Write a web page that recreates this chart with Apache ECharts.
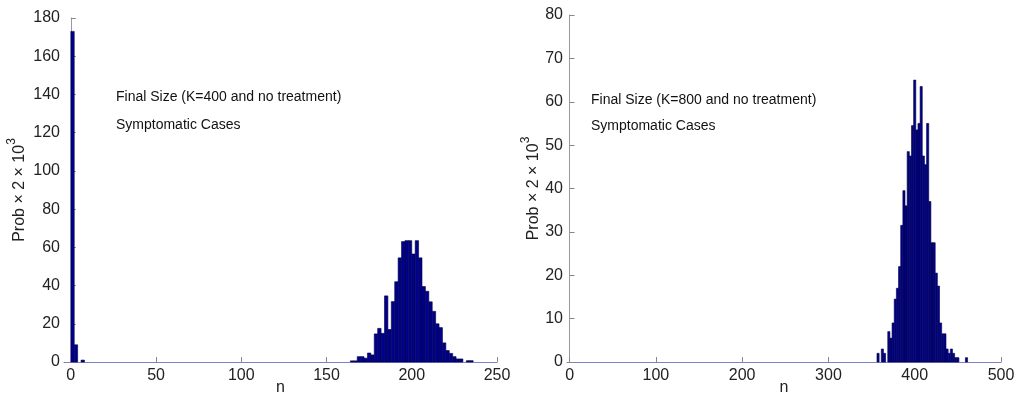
<!DOCTYPE html>
<html><head><meta charset="utf-8">
<script src="https://cdn.jsdelivr.net/npm/echarts@6/dist/echarts.min.js"></script>
<style>html,body{margin:0;padding:0;background:#fff}#c{width:1027px;height:403px}</style>
</head><body><div id="c"></div>
<script>
// Left panel: K=400 (bin centres n, bin width 2)
const leftN = [1, 3, 7,
  165, 167, 169, 171, 173, 175, 177, 179, 181, 183, 185, 187, 189, 191, 193, 195, 197, 199,
  201, 203, 205, 207, 209, 211, 213, 215, 217, 219, 221, 223, 225, 227, 229, 233, 235];
const leftProb = [173, 9, 1,
  0.6, 0.6, 2.8, 2.8, 2, 4.7, 3.7, 14.7, 17.6, 15, 34.6, 17, 31.6, 42, 54.5, 63, 63.5, 63.5,
  56.5, 63.5, 54.5, 39.5, 37, 31.5, 26.5, 20, 18, 10, 6, 4.5, 2.8, 1.6, 1.6, 0.7, 0.7];
// Right panel: K=800 (bin centres n, bin width 2.5)
const rightN = [357.5, 362.5, 365, 370, 372.5, 375, 377.5, 380, 382.5, 385, 387.5, 390, 392.5, 395, 397.5,
  400, 402.5, 405, 407.5, 410, 412.5, 415, 417.5, 420, 422.5, 425, 427.5, 430, 432.5, 435,
  437.5, 440, 442.5, 445, 447.5, 450, 460];
const rightProb = [2, 3, 2, 7, 5.5, 9, 14.5, 17, 22, 31.5, 39.5, 36, 48.5, 47.5, 54.5,
  65, 53.5, 55, 63.5, 47.5, 45.5, 55, 37, 27.5, 27.5, 20.5, 17.5, 9, 6.5, 6.5,
  3, 2, 3, 2, 1, 1, 1];
const leftBin = 2, rightBin = 2.5;
const leftTitle = ['Final Size (K=400 and no treatment)', 'Symptomatic Cases'];
const rightTitle = ['Final Size (K=800 and no treatment)', 'Symptomatic Cases'];
const yName = '{b|Prob \u00d7 2 \u00d7 10}{s|3}';
const xName = 'n';

const FONT = '"Liberation Sans", Arial, Helvetica, sans-serif';
const chart = echarts.init(document.getElementById('c'), null, {renderer: 'canvas'});

function hist(idx, ns, ps, bin) {
  return {
    type: 'custom', xAxisIndex: idx, yAxisIndex: idx,
    data: ns.map((n, i) => [n, ps[i]]),
    encode: {x: 0, y: 1},
    renderItem(params, api) {
      const n = api.value(0), p = api.value(1);
      const a = api.coord([n - bin / 2, p]);
      const b = api.coord([n + bin / 2, 0]);
      return {type: 'rect', shape: {x: a[0], y: a[1], width: b[0] - a[0], height: b[1] - a[1]},
        style: {fill: '#00008c', stroke: '#000040', lineWidth: 0.6}};
    }
  };
}
function xAx(idx, min, max) {
  return {
    gridIndex: idx, type: 'value', min: min, max: max,
    splitLine: {show: false},
    axisLine: {onZero: false, lineStyle: {color: '#7b82c8', width: 1}},
    axisTick: {inside: true, length: 5, lineStyle: {color: '#888'}},
    axisLabel: {showMinLabel: false, margin: 6, fontSize: 16, color: '#222', fontFamily: FONT},
    name: xName, nameLocation: 'middle', nameGap: 26, nameMoveOverlap: false,
    nameTextStyle: {fontSize: 16, color: '#222', fontFamily: FONT, verticalAlign: 'middle'}
  };
}
function yAx(idx, max, interval, gap) {
  return {
    gridIndex: idx, type: 'value', min: 0, max: max, interval: interval,
    splitLine: {show: false},
    axisLine: {show: true, lineStyle: {color: '#999', width: 1}},
    axisTick: {show: true, inside: true, length: 5, lineStyle: {color: '#888'}},
    axisLabel: {margin: 4, fontSize: 16, color: '#222', fontFamily: FONT},
    name: yName, nameLocation: 'middle', nameGap: gap, nameRotate: 90,
    nameTextStyle: {color: '#222', fontFamily: FONT,
      rich: {
        b: {fontSize: 16, lineHeight: 22, verticalAlign: 'bottom', color: '#222', fontFamily: FONT},
        s: {fontSize: 12, lineHeight: 22, verticalAlign: 'top', color: '#222', fontFamily: FONT}
      }}
  };
}
function ttl(text, left, top) {
  return {text: text, left: left, top: top, padding: 0,
    textStyle: {fontSize: 14, fontWeight: 'normal', color: '#111', fontFamily: FONT}};
}
chart.setOption({
  animation: false,
  backgroundColor: '#fff',
  title: [ttl(leftTitle[0], 116, 90), ttl(leftTitle[1], 116, 118),
          ttl(rightTitle[0], 591, 93), ttl(rightTitle[1], 591, 119)],
  grid: [
    {left: 64, top: 18, width: 433, bottom: 41, containLabel: false, outerBoundsMode: 'none'},
    {left: 567, top: 15, width: 434, bottom: 41, containLabel: false, outerBoundsMode: 'none'}
  ],
  xAxis: [xAx(0, -4, 250), xAx(1, -3, 500)],
  yAxis: [yAx(0, 180, 20, 36), yAx(1, 80, 10, 25)],
  series: [hist(0, leftN, leftProb, leftBin), hist(1, rightN, rightProb, rightBin)]
});
</script></body></html>
